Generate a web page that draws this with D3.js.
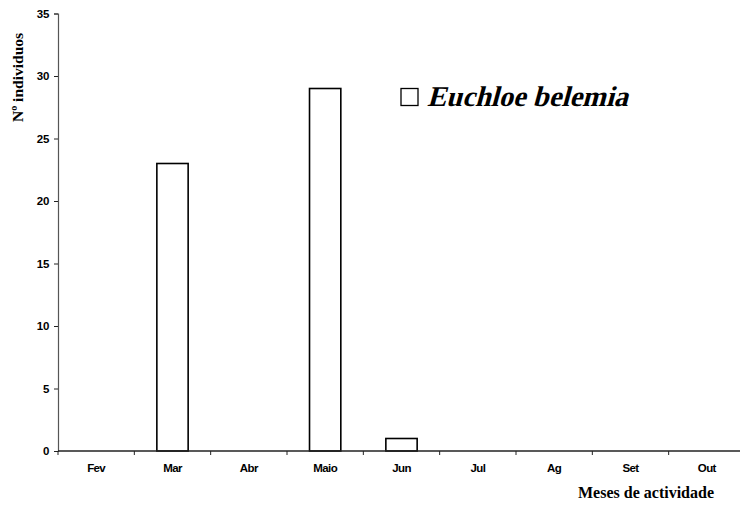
<!DOCTYPE html>
<html>
<head>
<meta charset="utf-8">
<script src="https://cdn.jsdelivr.net/npm/d3@7"></script>
<style>
  html, body { margin: 0; padding: 0; background: #fff; }
  svg { display: block; }
</style>
</head>
<body>
<svg id="chart" width="740" height="506"></svg>
<script>
// Monthly activity counts for Euchloe belemia
const months = ["Fev", "Mar", "Abr", "Maio", "Jun", "Jul", "Ag", "Set", "Out"];
const individuals = [0, 23, 0, 29, 1, 0, 0, 0, 0];
const yTicks = [0, 5, 10, 15, 20, 25, 30, 35];
const seriesName = "Euchloe belemia";

const svg = d3.select("#chart");
const plotLeft = 58, plotRight = 745, plotTop = 13.5, plotBottom = 451;
const serif = "'Liberation Serif', 'Times New Roman', serif";
const sans = "'Liberation Sans', Arial, sans-serif";

const x = d3.scaleBand().domain(months).range([plotLeft, plotRight])
  .paddingInner(0.59).paddingOuter(0.295);
const xTickScale = d3.scaleBand().domain(months).range([plotLeft, plotRight]);
const y = d3.scaleLinear().domain([0, 35]).range([plotBottom, plotTop]);

// Bars
svg.append("g").selectAll("rect")
  .data(months.map((m, i) => ({ m, v: individuals[i] })).filter(d => d.v > 0))
  .join("rect")
  .attr("x", d => x(d.m))
  .attr("y", d => y(d.v))
  .attr("width", x.bandwidth())
  .attr("height", d => y(0) - y(d.v))
  .attr("fill", "#fff")
  .attr("stroke", "#000")
  .attr("stroke-width", 1.6);

// Y axis
const yAxis = svg.append("g")
  .attr("transform", `translate(${plotLeft},0)`)
  .call(d3.axisLeft(y).tickValues(yTicks).tickSize(4).tickPadding(5));
yAxis.select(".domain").attr("stroke", "#555").attr("stroke-width", 1.2);
yAxis.selectAll(".tick line").attr("stroke", "#222");
yAxis.selectAll(".tick text")
  .attr("font-family", sans)
  .attr("font-weight", "bold")
  .attr("font-size", 11.5)
  .attr("letter-spacing", -0.3)
  .attr("fill", "#000");

// X axis: ticks at band boundaries, labels centred in bands
const xAxisG = svg.append("g").attr("transform", `translate(0,${plotBottom})`);
xAxisG.append("line")
  .attr("x1", plotLeft).attr("x2", plotRight)
  .attr("stroke", "#222").attr("stroke-width", 1.3);
xAxisG.selectAll("line.tk")
  .data(months)
  .join("line")
  .attr("class", "tk")
  .attr("x1", d => xTickScale(d)).attr("x2", d => xTickScale(d))
  .attr("y1", 0).attr("y2", 4)
  .attr("stroke", "#222");
xAxisG.selectAll("text")
  .data(months)
  .join("text")
  .attr("x", d => xTickScale(d) + xTickScale.bandwidth() / 2)
  .attr("y", 20.5)
  .attr("text-anchor", "middle")
  .attr("font-family", sans)
  .attr("font-weight", "bold")
  .attr("font-size", 11.5)
  .attr("letter-spacing", -0.6)
  .text(d => d);

// Axis titles
svg.append("text")
  .attr("transform", "translate(23,77.5) rotate(-90)")
  .attr("text-anchor", "middle")
  .attr("font-family", serif)
  .attr("font-weight", "bold")
  .attr("font-size", 15.5)
  .text("Nº individuos");

svg.append("text")
  .attr("x", 714).attr("y", 498)
  .attr("text-anchor", "end")
  .attr("font-family", serif)
  .attr("font-weight", "bold")
  .attr("font-size", 16)
  .text("Meses de actividade");

// Legend: bold serif slanted into an oblique
const legend = svg.append("g");
legend.append("rect")
  .attr("x", 401).attr("y", 88.5)
  .attr("width", 17).attr("height", 17)
  .attr("fill", "#fff").attr("stroke", "#000").attr("stroke-width", 1.3);
legend.append("text")
  .attr("transform", "translate(427,106) skewX(-15)")
  .attr("font-family", serif)
  .attr("font-weight", "bold")
  .attr("font-size", 28.6)
  .text(seriesName);
</script>
</body>
</html>
